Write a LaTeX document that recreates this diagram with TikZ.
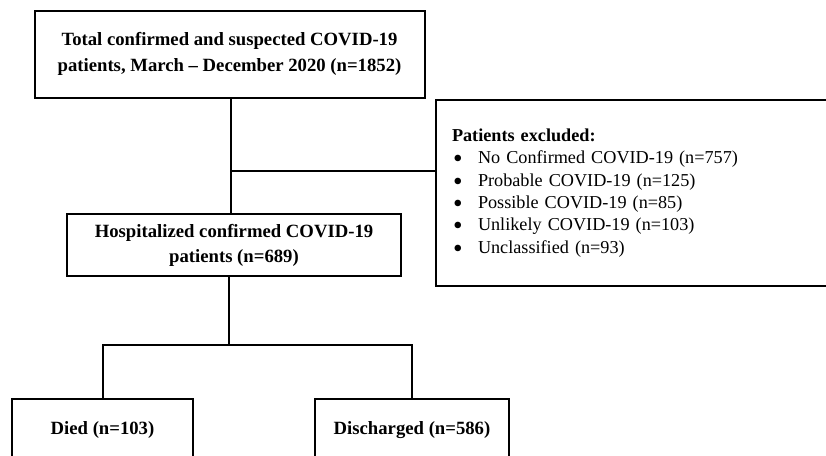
\documentclass[tikz,border=0pt]{standalone}
\usepackage{fontspec}
\usepackage{graphicx}
\setmainfont{Liberation Serif}
\newcommand{\blt}{\hspace*{1pt}\makebox[25pt][l]{\raisebox{-0.22em}[0pt][0pt]{\scalebox{1.5}{\textbullet}}}}
\begin{document}
\begin{tikzpicture}[x=1pt,y=-1pt,
  box/.style={draw=black,line width=2pt,rectangle,inner sep=0pt,align=center,font=\bfseries\fontsize{18.7}{26}\selectfont},
  link/.style={draw=black,line width=2pt}]
\useasboundingbox (0,0) rectangle (826,455);
\clip (0,0) rectangle (826,455);
\node[box,minimum width=390pt,minimum height=87pt] (top) at (229.5,54) {Total confirmed and suspected COVID-19\\patients, March -- December 2020 (n=1852)};
\node[box,minimum width=334pt,minimum height=62pt,font=\bfseries\fontsize{18.7}{25}\selectfont] (hosp) at (234,245) {Hospitalized confirmed COVID-19\\patients (n=689)};
\node[draw=black,line width=2pt,rectangle,anchor=north west,minimum height=186pt,text width=400pt,inner xsep=16pt,inner ysep=0pt,align=left,font=\fontsize{18.2}{22.4}\selectfont] (excl) at (435,99) {\textbf{Patients excluded:}\\
\blt No Confirmed COVID-19 (n=757)\\
\blt Probable COVID-19 (n=125)\\
\blt Possible COVID-19 (n=85)\\
\blt Unlikely COVID-19 (n=103)\\
\blt Unclassified (n=93)};
\node[box,minimum width=181pt,minimum height=62pt] (died) at (102.5,430) {Died (n=103)};
\node[box,minimum width=194pt,minimum height=62pt] (disc) at (412,430) {Discharged (n=586)};
\coordinate (j1) at (231,171);
\coordinate (j2) at (229,345);
\draw[link] (j1 |- top.south) -- (j1 |- hosp.north);
\draw[link] (j1) -- (j1 -| excl.west);
\draw[link] (j2 |- hosp.south) -- (j2);
\draw[link] (died.north) |- (j2) -| (disc.north);
\end{tikzpicture}
\end{document}
